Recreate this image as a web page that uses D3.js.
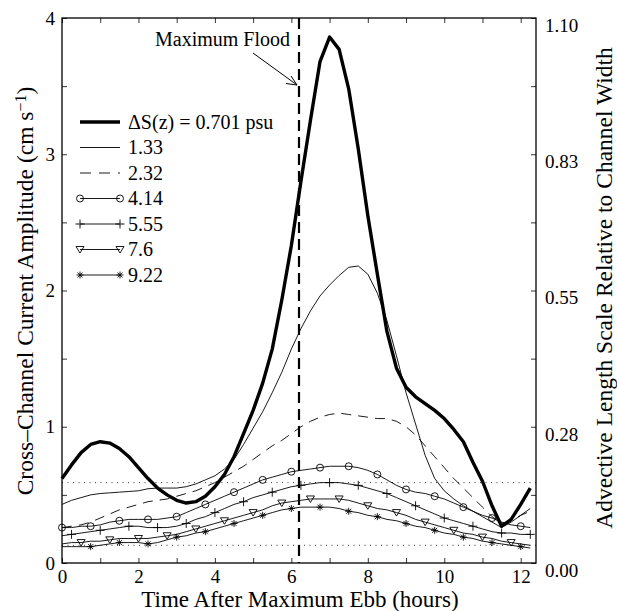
<!DOCTYPE html>
<html>
<head>
<meta charset="utf-8">
<script src="https://cdn.jsdelivr.net/npm/d3@7"></script>
<style>
  body { margin: 0; background: #fff; }
  svg text { font-family: "Liberation Serif", "Tinos", "DejaVu Serif", serif; fill: #000; }
</style>
</head>
<body>
<div id="chart"></div>
<script>
// time after maximum ebb (hours), sampled every quarter hour
var hours = [0, 0.25, 0.5, 0.75, 1, 1.25, 1.5, 1.75, 2, 2.25, 2.5, 2.75, 3, 3.25, 3.5, 3.75,
             4, 4.25, 4.5, 4.75, 5, 5.25, 5.5, 5.75, 6, 6.25, 6.5, 6.75, 7, 7.25, 7.5, 7.75,
             8, 8.25, 8.5, 8.75, 9, 9.25, 9.5, 9.75, 10, 10.25, 10.5, 10.75, 11, 11.25, 11.5, 11.75,
             12, 12.25];

// cross-channel current amplitude (cm/s) for each salinity difference
var s0701 = [0.62, 0.72, 0.81, 0.87, 0.89, 0.88, 0.84, 0.78, 0.70, 0.62, 0.55, 0.50, 0.46, 0.44, 0.45, 0.49,
             0.56, 0.65, 0.78, 0.95, 1.12, 1.32, 1.57, 1.93, 2.33, 2.80, 3.25, 3.68, 3.86, 3.77, 3.48, 3.04,
             2.55, 2.12, 1.70, 1.43, 1.29, 1.22, 1.17, 1.12, 1.06, 0.98, 0.89, 0.74, 0.60, 0.42, 0.27, 0.32,
             0.43, 0.55];
var s133  = [0.43, 0.46, 0.48, 0.50, 0.51, 0.515, 0.52, 0.525, 0.53, 0.545, 0.55, 0.55, 0.55, 0.56, 0.58, 0.61,
             0.64, 0.69, 0.76, 0.87, 0.99, 1.11, 1.25, 1.40, 1.57, 1.72, 1.85, 1.96, 2.04, 2.11, 2.17, 2.18,
             2.12, 1.98, 1.78, 1.52, 1.25, 1.02, 0.79, 0.62, 0.53, 0.47, 0.42, 0.38, 0.34, 0.30, 0.26, 0.30,
             0.35, 0.40];
var s232  = [0.26, 0.27, 0.28, 0.30, 0.33, 0.36, 0.39, 0.41, 0.43, 0.45, 0.46, 0.47, 0.49, 0.51, 0.53, 0.56,
             0.59, 0.63, 0.67, 0.71, 0.76, 0.81, 0.86, 0.90, 0.95, 1.00, 1.04, 1.07, 1.09, 1.10, 1.09, 1.08,
             1.07, 1.06, 1.06, 1.04, 1.00, 0.94, 0.86, 0.78, 0.70, 0.62, 0.55, 0.48, 0.41, 0.34, 0.29, 0.31,
             0.35, 0.38];
var s414  = [0.26, 0.26, 0.27, 0.27, 0.28, 0.30, 0.31, 0.32, 0.32, 0.32, 0.32, 0.33, 0.34, 0.37, 0.40, 0.43,
             0.46, 0.49, 0.52, 0.55, 0.58, 0.61, 0.63, 0.65, 0.67, 0.68, 0.69, 0.70, 0.71, 0.71, 0.71, 0.70,
             0.68, 0.65, 0.61, 0.57, 0.54, 0.52, 0.51, 0.49, 0.47, 0.44, 0.41, 0.38, 0.35, 0.33, 0.30, 0.28,
             0.27, 0.26];
var s555  = [0.20, 0.21, 0.22, 0.23, 0.24, 0.25, 0.26, 0.27, 0.27, 0.26, 0.26, 0.26, 0.27, 0.29, 0.32, 0.34,
             0.37, 0.40, 0.43, 0.45, 0.48, 0.50, 0.52, 0.54, 0.56, 0.57, 0.58, 0.59, 0.59, 0.59, 0.58, 0.57,
             0.55, 0.53, 0.51, 0.48, 0.45, 0.42, 0.39, 0.36, 0.33, 0.31, 0.29, 0.27, 0.25, 0.23, 0.22, 0.22,
             0.21, 0.21];
var s76   = [0.14, 0.15, 0.15, 0.16, 0.16, 0.17, 0.18, 0.18, 0.18, 0.18, 0.19, 0.20, 0.21, 0.23, 0.25, 0.27,
             0.29, 0.31, 0.33, 0.35, 0.37, 0.39, 0.42, 0.44, 0.45, 0.46, 0.47, 0.47, 0.47, 0.47, 0.46, 0.44,
             0.42, 0.40, 0.39, 0.37, 0.35, 0.32, 0.30, 0.28, 0.26, 0.24, 0.22, 0.21, 0.19, 0.18, 0.16, 0.15,
             0.14, 0.13];
var s922  = [0.12, 0.12, 0.12, 0.12, 0.13, 0.14, 0.15, 0.15, 0.15, 0.14, 0.15, 0.17, 0.19, 0.20, 0.22, 0.23,
             0.25, 0.27, 0.29, 0.31, 0.33, 0.35, 0.37, 0.39, 0.40, 0.41, 0.41, 0.41, 0.41, 0.40, 0.38, 0.37,
             0.35, 0.34, 0.32, 0.31, 0.29, 0.27, 0.26, 0.24, 0.22, 0.21, 0.19, 0.18, 0.16, 0.15, 0.14, 0.13,
             0.12, 0.11];

var legendLabels = ["\u0394S(z) = 0.701 psu", "1.33", "2.32", "4.14", "5.55", "7.6", "9.22"];
var leftTicks = [0, 1, 2, 3, 4];
var rightTickLabels = ["0.00", "0.28", "0.55", "0.83", "1.10"];
var bottomTicks = [0, 2, 4, 6, 8, 10, 12];
var maxFloodHour = 6.2;
var refLevels = [0.59, 0.13];

var W = 617, H = 611;
var margin = { left: 62, top: 18, right: 81, bottom: 48 };
var pw = W - margin.left - margin.right, ph = H - margin.top - margin.bottom;
var serif = '"Liberation Serif", "Tinos", "DejaVu Serif", serif';

var svg = d3.select("#chart").append("svg")
  .attr("width", W).attr("height", H);

var x = d3.scaleLinear().domain([0, 12.4]).range([margin.left, margin.left + pw]);
var y = d3.scaleLinear().domain([0, 4]).range([margin.top + ph, margin.top]);

// how each series looks
var styles = [
  { w: 3.4, dash: null,   mark: null },
  { w: 0.9, dash: null,   mark: null },
  { w: 0.9, dash: "10,7", mark: null },
  { w: 0.9, dash: null,   mark: "circle",   start: 0 },
  { w: 0.9, dash: null,   mark: "plus",     start: 1 },
  { w: 0.9, dash: null,   mark: "triangle", start: 2 },
  { w: 0.9, dash: null,   mark: "star",     start: 3 }
];
var series = [s0701, s133, s232, s414, s555, s76, s922];

function markerPath(kind) {
  if (kind === "circle") return "M3.5,0A3.5,3.5 0 1,1 -3.5,0A3.5,3.5 0 1,1 3.5,0Z";
  if (kind === "plus") return "M-4.5,0L4.5,0M0,-4.5L0,4.5";
  if (kind === "triangle") return "M-4,-3L4,-3L0,3.5Z";
  if (kind === "star") return "M-3.5,0L3.5,0M0,-3.5L0,3.5M-2.5,-2.5L2.5,2.5M-2.5,2.5L2.5,-2.5";
}

// reference dotted lines
svg.selectAll(".ref").data(refLevels).enter().append("line")
  .attr("x1", x(0)).attr("x2", margin.left + pw)
  .attr("y1", function(d) { return y(d); }).attr("y2", function(d) { return y(d); })
  .attr("stroke", "#000").attr("stroke-width", 0.8).attr("stroke-dasharray", "1,4.5");

// plain straight segments between samples, like the original plot
var line = d3.line()
  .x(function(d, i) { return x(hours[i]); })
  .y(function(d) { return y(d); });

series.forEach(function(vals, k) {
  var st = styles[k];
  svg.append("path").datum(vals)
    .attr("d", line)
    .attr("fill", "none").attr("stroke", "#000")
    .attr("stroke-width", st.w)
    .attr("stroke-linejoin", "round")
    .attr("stroke-dasharray", st.dash);
  if (st.mark) {
    var pts = vals.map(function(v, i) { return { t: hours[i], v: v, i: i }; })
      .filter(function(d) { return d.i >= st.start && (d.i - st.start) % 3 === 0; });
    svg.selectAll(".m" + k).data(pts).enter().append("path")
      .attr("transform", function(d) { return "translate(" + x(d.t) + "," + y(d.v) + ")"; })
      .attr("d", markerPath(st.mark))
      .attr("fill", "none").attr("stroke", "#000").attr("stroke-width", 0.9);
  }
});

// maximum flood marker
svg.append("line")
  .attr("x1", x(maxFloodHour)).attr("x2", x(maxFloodHour))
  .attr("y1", margin.top).attr("y2", margin.top + ph)
  .attr("stroke", "#000").attr("stroke-width", 2.2).attr("stroke-dasharray", "11,6");

svg.append("text").attr("x", 290).attr("y", 46).attr("text-anchor", "end")
  .style("font-size", "20px").text("Maximum Flood");
svg.append("path")
  .attr("d", "M253,53L297,85M297,85L286,83.5M297,85L291,76")
  .attr("fill", "none").attr("stroke", "#000").attr("stroke-width", 1);

// axes
var minorY = d3.range(0, 4.01, 0.5);
var hourTicks = d3.range(0, 12.01, 1);

var gl = svg.append("g").attr("transform", "translate(" + margin.left + ",0)")
  .call(d3.axisLeft(y).tickValues(minorY).tickSizeInner(-5).tickSizeOuter(0).tickPadding(7)
    .tickFormat(function(d) { return leftTicks.indexOf(d) >= 0 ? d : ""; }));
var gr = svg.append("g").attr("transform", "translate(" + (margin.left + pw) + ",0)")
  .call(d3.axisRight(y).tickValues(minorY).tickSizeInner(-5).tickSizeOuter(0).tickPadding(9)
    .tickFormat(function(d) { return d % 1 === 0 ? rightTickLabels[d] : ""; }));
var gb = svg.append("g").attr("transform", "translate(0," + (margin.top + ph) + ")")
  .call(d3.axisBottom(x).tickValues(hourTicks).tickSizeInner(-5).tickSizeOuter(0).tickPadding(7)
    .tickFormat(function(d) { return bottomTicks.indexOf(d) >= 0 ? d : ""; }));
var gt = svg.append("g").attr("transform", "translate(0," + margin.top + ")")
  .call(d3.axisTop(x).tickValues(hourTicks).tickSizeInner(-5).tickSizeOuter(0).tickFormat(""));

[gl, gr, gb, gt].forEach(function(g) {
  g.attr("font-family", serif).attr("font-size", 19);
  g.select(".domain").remove();
  g.selectAll("line").attr("stroke", "#000").attr("stroke-width", 0.8);
  g.selectAll("text").attr("fill", "#000");
});
gr.selectAll("text").attr("dy", "0.7em");

svg.append("rect")
  .attr("x", margin.left).attr("y", margin.top).attr("width", pw).attr("height", ph)
  .attr("fill", "none").attr("stroke", "#000").attr("stroke-width", 1.3);

// axis titles
svg.append("text").attr("x", 300).attr("y", 607).attr("text-anchor", "middle")
  .style("font-size", "23px").text("Time After Maximum Ebb (hours)");

var yl = svg.append("text").attr("transform", "translate(33,291) rotate(-90)")
  .attr("text-anchor", "middle").style("font-size", "23.5px");
yl.append("tspan").text("Cross\u2013Channel Current Amplitude (cm s");
yl.append("tspan").attr("dy", "-0.45em").style("font-size", "16px").text("\u22121");
yl.append("tspan").attr("dy", "0.3em").text(")");

svg.append("text").attr("transform", "translate(612,288) rotate(-90)")
  .attr("text-anchor", "middle").style("font-size", "23.5px")
  .text("Advective Length Scale Relative to Channel Width");

// legend
var lg = svg.append("g");
legendLabels.forEach(function(lab, k) {
  var st = styles[k], ly = 122 + k * 25.5;
  lg.append("line").attr("x1", 80).attr("x2", 120).attr("y1", ly).attr("y2", ly)
    .attr("stroke", "#000").attr("stroke-width", st.w).attr("stroke-dasharray", st.dash ? "11,8" : null);
  if (st.mark) {
    [80, 120].forEach(function(mx) {
      lg.append("path").attr("transform", "translate(" + mx + "," + ly + ")")
        .attr("d", markerPath(st.mark)).attr("fill", "none").attr("stroke", "#000").attr("stroke-width", 0.9);
    });
  }
  lg.append("text").attr("x", 128).attr("y", ly).attr("dy", "0.33em")
    .style("font-size", "20px").text(lab);
});
</script>
</body>
</html>
